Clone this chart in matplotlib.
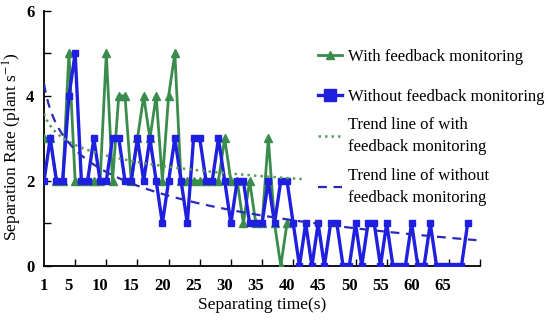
import numpy as np
from matplotlib import pyplot as plt
from matplotlib.lines import Line2D

# Separation rate per second
x_with = list(range(1, 41))
y_with = [3, 3, 2, 2, 5, 2, 2, 2, 2, 2,
          5, 2, 4, 4, 2, 3, 4, 3, 4, 2,
          4, 5, 2, 2, 2, 2, 2, 2, 2, 3,
          2, 2, 1, 2, 1, 1, 3, 1, 0, 1]

x_without = list(range(1, 70))
y_without = [2, 3, 2, 2, 4, 5, 2, 2, 3, 2,
             2, 3, 3, 2, 2, 3, 2, 3, 2, 1,
             2, 3, 2, 1, 3, 3, 2, 2, 3, 2,
             1, 2, 2, 1, 1, 1, 2, 1, 2, 2,
             1, 0, 1, 0, 1, 0, 1, 1, 0, 0,
             1, 0, 1, 1, 0, 1, 0, 0, 0, 1,
             0, 0, 1, 0, 0, 0, 0, 0, 1]

tick_labels = [1, 5, 10, 15, 20, 25, 30, 35, 40, 45, 50, 55, 60, 65]
series_labels = ["With feedback monitoring",
                 "Without feedback monitoring"]
trend_labels = ["Trend line of with\nfeedback monitoring",
                "Trend line of without\nfeedback monitoring"]

green = "#3a8c4c"
blue = "#1f1fe0"
green_trend = "#5f9a5f"
blue_trend = "#2a2ab8"
plt.rcParams["font.family"] = ["Liberation Serif", "DejaVu Serif"]
plt.rcParams["mathtext.fontset"] = "stix"


def log_trend(xs, ys, x_end):
    # logarithmic trend line, like a spreadsheet would draw it
    k, c = np.polyfit(np.log(xs), ys, 1)
    xt = np.linspace(1, x_end, 200)
    return xt, k * np.log(xt) + c


fig = plt.figure(figsize=(5.5, 3.2), dpi=100)
ax = fig.add_axes([0.08, 0.169, 0.793, 0.797])

ax.plot(x_with, y_with, color=green, lw=2, marker="^", ms=6, zorder=3)
ax.plot(x_without, y_without, color=blue, lw=2.4, marker="s", ms=4.8, zorder=4)

xt, yt = log_trend(x_with, y_with, x_with[-1] + 2.4)
ax.plot(xt, yt, color=green_trend, lw=1.8, ls=(0, (1, 1.6)), zorder=5)
xt, yt = log_trend(x_without, y_without, x_without[-1] + 1.4)
ax.plot(xt, yt, color=blue_trend, lw=1.6, ls=(0, (4, 3)), zorder=5)

ax.set_xlim(1, 71)
ax.set_ylim(0, 6)
ax.spines["top"].set_visible(False)
ax.spines["right"].set_visible(False)
ax.spines["left"].set_linewidth(1.3)
ax.spines["bottom"].set_linewidth(1.3)

# labels sit on 1, 5, 10 ... while the tick marks are at 6, 11, 16 ...
ax.set_xticks(tick_labels)
ax.set_xticklabels([str(t) for t in tick_labels], fontweight="bold", fontsize=12)
ax.tick_params(axis="x", length=0, pad=9)
ax.set_xticks(range(6, 72, 5), minor=True)
ax.tick_params(axis="x", which="minor", direction="in", length=5, width=1)

ax.set_yticks([0, 2, 4, 6])
ax.set_yticklabels(["0", "2", "4", "6"], fontweight="bold", fontsize=12)
ax.set_yticks([1, 3, 5], minor=True)
ax.tick_params(axis="y", which="both", direction="in", length=5, width=1, pad=7)

ax.set_xlabel("Separating time(s)", fontsize=12.5, labelpad=2)
ax.set_ylabel("Separation Rate (plant s$^{-1}$)", fontsize=12.5)
ax.yaxis.set_label_coords(-0.047, 0.47)

# two legend blocks: the series entries are spaced wider than the trend ones
legend_style = dict(loc="upper left", frameon=False, fontsize=12, handlelength=1.45,
                    handletextpad=0.35, borderpad=0, borderaxespad=0)
series_handles = [
    Line2D([], [], color=green, lw=2, marker="^", ms=6),
    Line2D([], [], color=blue, lw=2.4, marker="s", ms=9),
]
fig.legend(series_handles, series_labels, bbox_to_anchor=(0.578, 0.847),
           labelspacing=1.45, **legend_style)

trend_handles = [
    Line2D([], [], color=green_trend, lw=1.8, ls=(0, (1, 1.6))),
    Line2D([], [], color=blue_trend, lw=1.6, ls=(0, (4, 3))),
]
leg = fig.legend(trend_handles, trend_labels, bbox_to_anchor=(0.578, 0.634),
                 labelspacing=0.75, **legend_style)
for t in leg.get_texts():
    t.set_linespacing(1.5)

fig.savefig("out.png", dpi=100)
